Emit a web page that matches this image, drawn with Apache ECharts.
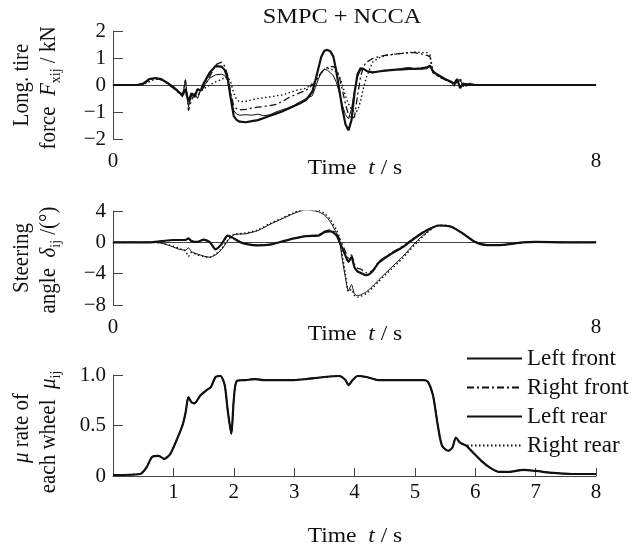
<!DOCTYPE html>
<html><head><meta charset="utf-8">
<script src="https://cdn.jsdelivr.net/npm/echarts@6/dist/echarts.min.js"></script>
<style>html,body{margin:0;padding:0;background:#fff}#c{width:632px;height:544px}</style>
</head><body><div id="c"></div>
<script>
// ---------- Panel 1: longitudinal tire force (kN) ----------
const tF = [0, 0.4, 0.5, 0.6, 0.7, 0.8, 0.9, 1.0,
  1.1, 1.15, 1.2, 1.25, 1.3, 1.35, 1.4, 1.45, 1.5,
  1.6, 1.7, 1.8, 1.85, 1.9, 1.95, 2.0, 2.05, 2.1,
  2.2, 2.3, 2.4, 2.5, 2.6, 2.7, 2.8, 2.9, 3.0,
  3.1, 3.2, 3.3, 3.35, 3.4, 3.45, 3.5, 3.55, 3.6,
  3.65, 3.7, 3.75, 3.8, 3.85, 3.9, 3.95, 4.0, 4.05,
  4.1, 4.15, 4.2, 4.3, 4.4, 4.5, 4.6, 4.7, 4.8,
  4.9, 5.0, 5.1, 5.2, 5.25, 5.3, 5.35, 5.4, 5.5,
  5.6, 5.65, 5.7, 5.75, 5.8, 5.85, 5.9, 6.0, 6.1,
  8.0];
const fLF = [0, 0, 0.05, 0.22, 0.26, 0.22, 0.08, -0.08,
  -0.28, -0.38, -0.15, -0.62, -0.3, -0.45, -0.15, -0.22, 0.05,
  0.45, 0.7, 0.68, 0.55, 0.25, -0.5, -1.15, -1.3, -1.36,
  -1.38, -1.34, -1.3, -1.22, -1.14, -1.06, -0.98, -0.88, -0.78,
  -0.68, -0.55, -0.25, 0.15, 0.6, 1.05, 1.27, 1.3, 1.25,
  1.05, 0.5, -0.2, -0.9, -1.45, -1.68, -1.3, -0.3, 0.4,
  0.62, 0.6, 0.52, 0.47, 0.5, 0.53, 0.55, 0.57, 0.58,
  0.6, 0.6, 0.62, 0.65, 0.72, 0.5, 0.42, 0.35, 0.22,
  0.12, 0.05, 0.22, -0.12, 0.06, -0.02, 0.04, 0, 0,
  0];
const fRF = [0, 0, 0.03, 0.18, 0.24, 0.2, 0.05, -0.12,
  -0.32, -0.4, 0.18, -0.95, -0.55, -0.35, -0.4, -0.25, -0.1,
  0.3, 0.75, 0.85, 0.7, 0.35, -0.3, -0.78, -0.88, -0.92,
  -0.9, -0.86, -0.82, -0.8, -0.76, -0.72, -0.62, -0.48, -0.38,
  -0.28, -0.2, 0.0, 0.12, 0.3, 0.45, 0.58, 0.65, 0.68,
  0.68, 0.6, 0.3, -0.2, -0.7, -1.1, -1.25, -1.18, -0.4,
  0.3, 0.7, 0.85, 0.98, 1.05, 1.1, 1.12, 1.15, 1.17,
  1.2, 1.2, 1.15, 1.1, 1.05, 0.45, 0.38, 0.3, 0.2,
  0.1, 0.02, 0.18, 0.25, -0.05, 0.08, 0.02, 0, 0,
  0];
const fLR = [0, 0, 0.05, 0.2, 0.25, 0.2, 0.06, -0.1,
  -0.3, -0.45, 0.2, -0.8, -0.4, -0.3, -0.5, -0.2, -0.05,
  0.25, 0.38, 0.4, 0.35, 0.15, -0.45, -0.95, -1.08, -1.12,
  -1.1, -1.12, -1.08, -1.14, -1.1, -1.0, -0.92, -0.85, -0.75,
  -0.62, -0.5, -0.4, -0.1, 0.2, 0.48, 0.58, 0.55, 0.45,
  0.35, 0.1, -0.3, -0.75, -1.1, -1.25, -0.9, -0.2, 0.3,
  0.55, 0.6, 0.5, 0.45, 0.5, 0.52, 0.55, 0.58, 0.62,
  0.65, 0.6, 0.58, 0.6, 0.68, 0.55, 0.4, 0.32, 0.2,
  0.1, -0.05, 0.15, 0.2, -0.05, 0.05, 0.02, 0, 0,
  0];
const fRR = [0, 0, 0.02, 0.12, 0.22, 0.2, 0.08, -0.08,
  -0.25, -0.35, -0.3, -0.55, -0.45, -0.3, -0.35, -0.25, -0.15,
  0.0, 0.12, 0.2, 0.28, 0.3, 0.1, -0.3, -0.55, -0.62,
  -0.6, -0.55, -0.5, -0.47, -0.44, -0.4, -0.37, -0.3, -0.22,
  -0.16, -0.12, 0.05, 0.15, 0.28, 0.45, 0.58, 0.62, 0.6,
  0.55, 0.48, 0.3, 0.0, -0.4, -0.7, -0.9, -1.0, -0.95,
  -0.6, -0.1, 0.3, 0.85, 1.0, 1.08, 1.12, 1.15, 1.18,
  1.2, 1.22, 1.2, 1.2, 1.12, 0.5, 0.4, 0.3, 0.2,
  0.1, 0.05, 0.1, 0.15, 0.0, 0.05, 0, 0, 0,
  0];

// ---------- Panel 2: steering angle (deg) ----------
const tD = [0, 0.6, 0.8, 1.0, 1.1, 1.2, 1.25, 1.3, 1.4,
  1.5, 1.6, 1.7, 1.8, 1.9, 2.0, 2.1, 2.2, 2.4,
  2.6, 2.8, 3.0, 3.2, 3.4, 3.5, 3.6, 3.7, 3.75,
  3.8, 3.85, 3.9, 3.95, 4.0, 4.05, 4.1, 4.2, 4.3,
  4.4, 4.6, 4.8, 5.0, 5.2, 5.4, 5.6, 5.8, 6.0,
  6.2, 6.4, 6.6, 6.8, 7.0, 7.5, 8.0];
const dLF = [0, 0, 0.15, 0.3, 0.3, 0.3, 0.5, 0.15, 0.05,
  0.35, 0.05, -0.9, -0.2, 0.85, 0.5, 0.05, -0.2, -0.4,
  -0.3, 0.1, 0.5, 0.8, 0.85, 1.3, 1.4, 0.9, 0.1,
  -0.8, -1.7, -2.5, -1.9, -3.2, -3.7, -3.9, -4.2, -3.7,
  -2.6, -1.5, -0.6, 0.55, 1.55, 2.15, 2.0, 1.1, 0.05,
  -0.35, -0.35, -0.2, 0, 0.05, 0, 0];
const dRF = [0, 0, 0.12, 0.28, 0.3, 0.32, 0.45, 0.2, 0.05,
  0.3, 0.0, -0.85, -0.25, 0.8, 0.55, 0.1, -0.15, -0.35,
  -0.25, 0.1, 0.5, 0.8, 0.95, 1.4, 1.6, 1.1, 0.5,
  -0.3, -1.2, -2.0, -1.6, -2.8, -3.3, -3.4, -3.9, -3.6,
  -2.5, -1.4, -0.5, 0.65, 1.6, 2.15, 2.0, 1.1, 0.05,
  -0.35, -0.35, -0.2, 0, 0.05, 0, 0];
const dLR = [0, 0, -0.1, -0.6, -0.9, -1.0, -0.7, -1.2, -1.5,
  -1.75, -1.9, -1.6, -0.9, 0.2, 0.95, 1.05, 1.1, 1.5,
  2.3, 3.0, 3.7, 4.15, 3.9, 3.5, 2.6, 1.2, 0.2,
  -2.3, -4.5, -6.2, -5.4, -6.6, -6.8, -6.7, -6.3, -5.6,
  -4.8, -3.3, -1.8, -0.1, 1.3, 2.15, 2.0, 1.1, 0.05,
  -0.35, -0.35, -0.2, 0, 0.05, 0, 0];
const dRR = [0, 0, -0.1, -0.5, -0.8, -1.1, -1.8, -1.3, -1.6,
  -1.8, -1.9, -1.5, -0.8, 0.3, 1.0, 1.1, 1.2, 1.6,
  2.4, 3.1, 3.8, 4.3, 4.1, 3.7, 2.9, 1.6, 0.6,
  -1.8, -4.0, -6.3, -6.0, -6.8, -7.0, -6.9, -6.5, -5.8,
  -5.0, -3.5, -2.0, -0.3, 1.2, 2.2, 2.05, 1.1, 0.05,
  -0.35, -0.35, -0.2, 0, 0.05, 0, 0];

// ---------- Panel 3: mu rate (all four wheels coincide) ----------
const tM = [0, 0.45, 0.55, 0.65, 0.75, 0.85, 0.95, 1.05, 1.15,
  1.2, 1.25, 1.3, 1.35, 1.45, 1.55, 1.62, 1.7, 1.78,
  1.85, 1.9, 1.96, 2.0, 2.05, 2.2, 2.35, 2.5, 3.0,
  3.2, 3.5, 3.75, 3.85, 3.9, 3.97, 4.05, 4.2, 4.4,
  5.15, 5.22, 5.3, 5.38, 5.45, 5.55, 5.62, 5.68, 5.75,
  5.85, 5.95, 6.1, 6.25, 6.4, 6.55, 6.8, 7.0, 7.3,
  7.6, 8.0];
const muAll = [0.01, 0.02, 0.08, 0.19, 0.2, 0.17, 0.22, 0.35, 0.5,
  0.62, 0.78, 0.73, 0.72, 0.8, 0.85, 0.88, 0.98, 0.99,
  0.9, 0.65, 0.42, 0.75, 0.94, 0.95, 0.96, 0.95, 0.95,
  0.96, 0.98, 0.99, 0.95, 0.9, 0.95, 0.99, 0.98, 0.95,
  0.95, 0.93, 0.8, 0.5, 0.3, 0.25, 0.28, 0.38, 0.33,
  0.3, 0.24, 0.15, 0.08, 0.04, 0.04, 0.06, 0.05, 0.03,
  0.02, 0.02];

const names = ['Left front', 'Right front', 'Left rear', 'Right rear'];
const yTicks1 = [-2, 2, 1];
const yTicks2 = [-8, 4, 4];
const yTicks3 = [0, 1, 0.5];

const FONT = 'Liberation Serif';
const INK = '#111';
const AX = '#444';
const lineStyles = [
  {width: 2.2, type: 'solid'},
  {width: 1.3, type: [7, 3, 2, 3]},
  {width: 1.0, type: 'solid'},
  {width: 1.4, type: [1.5, 2.5]}
];
function pairs(t, v) { return t.map((x, i) => [x, v[i]]); }
const minus = v => String(v).replace('-', '\u2212');

const grids = [
  {left: 113, width: 483, top: 31, height: 108},
  {left: 113, width: 483, top: 211, height: 94},
  {left: 113, width: 483, top: 375, height: 101}
];
function xAx(i) {
  const last = i === 2;
  return {
    type: 'value', gridIndex: i, min: 0, max: 8, interval: last ? 1 : 8,
    axisLine: {show: true, lineStyle: {color: AX, width: 1}},
    axisTick: {show: last, inside: true, length: 8, lineStyle: {color: AX}},
    splitLine: {show: false},
    axisLabel: {fontFamily: FONT, fontSize: 21, color: INK, margin: last ? 6 : 12,
      formatter: v => (last && v === 0) ? '' : String(v)}
  };
}
function yAx(i, tk, fmt) {
  return {
    type: 'value', gridIndex: i, min: tk[0], max: tk[1], interval: tk[2],
    axisLine: {show: true, lineStyle: {color: AX, width: 1}},
    axisTick: {show: true, inside: true, length: 10, lineStyle: {color: AX}},
    splitLine: {show: false},
    axisLabel: {fontFamily: FONT, fontSize: 21, color: INK, margin: 7, formatter: fmt}
  };
}
const panelData = [
  [tF, [fLF, fRF, fLR, fRR]],
  [tD, [dLF, dRF, dLR, dRR]],
  [tM, [muAll, muAll, muAll, muAll]]
];
const series = [];
panelData.forEach(([t, arrs], gi) => {
  [2, 3, 1, 0].forEach(k => {
    series.push({
      type: 'line', name: names[k], xAxisIndex: gi, yAxisIndex: gi,
      data: pairs(t, arrs[k]), symbol: 'none', showSymbol: false,
      smooth: gi === 0 ? false : 0.25, animation: false,
      lineStyle: Object.assign({color: INK}, lineStyles[k]),
      itemStyle: {color: INK}
    });
  });
});

const base = {fontFamily: FONT, fontSize: 21, fill: INK};
function vtext(x, y, text, rich) {
  return {type: 'text', x: x, y: y, rotation: Math.PI / 2, scaleY: 1.1,
    style: Object.assign({text: text, align: 'center', verticalAlign: 'middle', rich: rich || {}}, base)};
}
const richSub = {
  i: {fontFamily: FONT, fontSize: 21, fontStyle: 'italic', fill: INK},
  s: {fontFamily: FONT, fontSize: 14, fill: INK, padding: [12, 0, 0, 0]},
  n: {fontFamily: FONT, fontSize: 21, fill: INK}
};
function timeLabel(y) {
  return {type: 'text', x: 355, y: y, scaleX: 1.12,
    style: Object.assign({text: 'Time  {i|t} / s', align: 'center', verticalAlign: 'middle',
      rich: {i: {fontFamily: FONT, fontSize: 21, fontStyle: 'italic', fill: INK}}}, base)};
}

const option = {
  backgroundColor: '#fff',
  animation: false,
  grid: grids,
  xAxis: [xAx(0), xAx(1), xAx(2)],
  yAxis: [
    yAx(0, yTicks1, minus),
    yAx(1, yTicks2, minus),
    yAx(2, yTicks3, v => v === 0 ? '0' : v.toFixed(1))
  ],
  legend: {
    data: names, orient: 'vertical', left: 461, top: 342,
    itemWidth: 55, itemHeight: 14, itemGap: 6,
    itemStyle: {opacity: 0},
    textStyle: {fontFamily: FONT, fontSize: 23, color: INK},
    selectedMode: false
  },
  series: series,
  graphic: [
    {type: 'text', x: 342, y: 17, scaleX: 1.16, style: Object.assign({text: 'SMPC + NCCA', align: 'center', verticalAlign: 'middle'}, base)},
    timeLabel(168), timeLabel(334), timeLabel(536),
    vtext(22, 85, 'Long. tire'),
    vtext(49, 88, 'force  {i|F}{s|xij}{n| / kN}', richSub),
    vtext(22, 258, 'Steering'),
    vtext(49, 260, 'angle  {i|δ}{s|ij}{n| /(°)}', richSub),
    vtext(22, 428, '{i|μ} rate of', richSub),
    vtext(49, 432, 'each wheel  {i|μ}{s|ij}', richSub)
  ]
};
const chart = echarts.init(document.getElementById('c'), null, {renderer: 'canvas'});
chart.setOption(option);
</script>
</body></html>
